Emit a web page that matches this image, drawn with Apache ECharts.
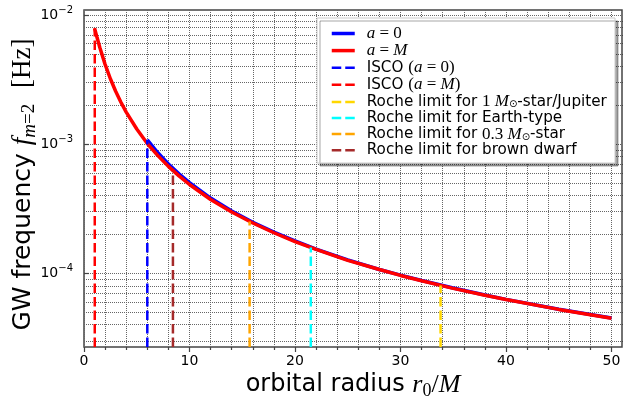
<!DOCTYPE html>
<html>
<head>
<meta charset="utf-8">
<script src="https://cdn.jsdelivr.net/npm/echarts@6/dist/echarts.min.js"></script>
<style>
  html, body { margin: 0; padding: 0; background: #fff; }
  #main { width: 623px; height: 402px; }
</style>
</head>
<body>
<div id="main"></div>
<script>
// orbit radius (r0/M) and GW frequency (Hz)
const radiusA0 = [6, 7, 8, 9, 10, 12, 14, 16, 18, 20, 22, 25, 28, 30, 32, 35, 38, 40, 45, 50];
const freqA0 = [1.08e-3, 8.58e-4, 7.03e-4, 5.89e-4, 5.03e-4, 3.82e-4, 3.04e-4, 2.48e-4, 2.08e-4, 1.78e-4,
  1.54e-4, 1.27e-4, 1.07e-4, 9.68e-5, 8.78e-5, 7.68e-5, 6.79e-5, 6.28e-5, 5.27e-5, 4.50e-5];

const radiusAM = [1, 1.25, 1.5, 2, 2.5, 3, 3.5, 4, 5, 6, 7, 8, 9, 10, 12, 14, 16, 18, 20, 22, 25, 28, 30, 32, 35, 38, 40, 45, 50];
const freqAM = [7.9e-3, 6.63e-3, 5.6e-3, 4.15e-3, 3.21e-3, 2.57e-3, 2.11e-3, 1.77e-3, 1.31e-3, 1.01e-3, 8.15e-4,
  6.73e-4, 5.68e-4, 4.87e-4, 3.73e-4, 2.98e-4, 2.45e-4, 2.06e-4, 1.76e-4, 1.53e-4, 1.26e-4, 1.07e-4, 9.62e-5,
  8.74e-5, 7.64e-5, 6.76e-5, 6.26e-5, 5.25e-5, 4.48e-5];

// vertical markers: ISCO and Roche limits
const markerNames = ['ISCO (a = 0)', 'ISCO (a = M)', 'Roche limit for 1 Msun-star/Jupiter',
  'Roche limit for Earth-type', 'Roche limit for 0.3 Msun-star', 'Roche limit for brown dwarf'];
const markerRadius = [6, 1.02, 33.8, 21.5, 15.7, 8.43];
const markerFreq = [1.08e-3, 7.9e-3, 8.05e-5, 1.58e-4, 2.52e-4, 6.2e-4];
const markerColors = ['#0000ff', '#ff0000', '#ffd700', '#00ffff', '#ffa500', '#a52a2a'];

const Y_MIN = 2.685e-5, Y_MAX = 1.094e-2;
const xMajor = [0, 10, 20, 30, 40, 50];
const xMinor = [2, 4, 6, 8, 12, 14, 16, 18, 22, 24, 26, 28, 32, 34, 36, 38, 42, 44, 46, 48];
const yDecades = [-4, -3, -2];

const yMinor = [];
[-5, -4, -3, -2].forEach(function (e) {
  for (let k = 2; k <= 9; k++) {
    const v = Math.log10(k) + e;
    if (v > Math.log10(Y_MIN) && v < Math.log10(Y_MAX)) yMinor.push(v);
  }
});

const legendRich = {
  '0': '{m|a}{n| = 0}',
  'M': '{m|a}{n| = }{m|M}',
  'ISCO (a = 0)': '{t|ISCO }{n|(}{m|a}{n| = 0)}',
  'ISCO (a = M)': '{t|ISCO }{n|(}{m|a}{n| = }{m|M}{n|)}',
  'Roche limit for 1 Msun-star/Jupiter': '{t|Roche limit for }{n|1 }{m|M}{s|⊙}{t|-star/Jupiter}',
  'Roche limit for Earth-type': '{t|Roche limit for Earth-type}',
  'Roche limit for 0.3 Msun-star': '{t|Roche limit for }{n|0.3 }{m|M}{s|⊙}{t|-star}',
  'Roche limit for brown dwarf': '{t|Roche limit for brown dwarf}'
};

const gridLine = { show: true, lineStyle: { color: '#666', width: 1, type: [1, 1] } };
const tickStyle = { color: '#444', width: 1.2 };
const dash = [9.5, 4];

const series = [
  { name: '0', type: 'line', data: radiusA0.map((r, i) => [r, freqA0[i]]),
    symbol: 'none', lineStyle: { color: '#0000ff', width: 3.5 }, itemStyle: { color: '#0000ff' } },
  { name: 'M', type: 'line', data: radiusAM.map((r, i) => [r, freqAM[i]]),
    symbol: 'none', lineStyle: { color: '#ff0000', width: 3.5 }, itemStyle: { color: '#ff0000' } }
];
markerNames.forEach(function (n, i) {
  series.push({
    name: n, type: 'line', symbol: 'none',
    data: [[markerRadius[i], Y_MIN], [markerRadius[i], markerFreq[i]]],
    lineStyle: { color: markerColors[i], width: 2.5, type: dash },
    itemStyle: { color: markerColors[i] }
  });
});

const legendData = [
  { name: '0', lineStyle: { type: 'solid', width: 3.5 } },
  { name: 'M', lineStyle: { type: 'solid', width: 3.5 } }
].concat(markerNames.map(n => ({ name: n, lineStyle: { type: dash, width: 2.5 } })));

const chart = echarts.init(document.getElementById('main'));
chart.setOption({
  animation: false,
  backgroundColor: '#fff',
  grid: { left: 84, right: 1, top: 10, bottom: 55, show: true, borderColor: '#444', borderWidth: 1.5,
    containLabel: false, outerBoundsMode: 'none' },
  xAxis: [
    {
      type: 'value', min: 0, max: 51,
      name: '{t|orbital radius }{m|r}{s|0}{n|/}{m|M}',
      nameLocation: 'middle', nameGap: 23, nameMoveOverlap: false,
      nameTextStyle: {
        rich: {
          t: { fontFamily: 'DejaVu Sans', fontSize: 24, lineHeight: 30, color: '#000' },
          m: { fontFamily: 'Liberation Serif', fontStyle: 'italic', fontSize: 26, lineHeight: 30, color: '#000' },
          n: { fontFamily: 'Liberation Serif', fontSize: 26, lineHeight: 30, color: '#000' },
          s: { fontFamily: 'Liberation Serif', fontSize: 18, lineHeight: 16, verticalAlign: 'bottom', color: '#000' }
        }
      },
      axisLine: { show: false },
      axisTick: { show: true, length: 5, lineStyle: tickStyle, customValues: xMajor },
      axisLabel: { customValues: xMajor, margin: 7, fontFamily: 'DejaVu Sans', fontSize: 14, color: '#000' },
      splitLine: gridLine
    },
    {
      type: 'value', min: 0, max: 51, position: 'bottom',
      axisLine: { show: false },
      axisTick: { show: true, length: 3, lineStyle: tickStyle, customValues: xMinor },
      axisLabel: { show: false },
      splitLine: gridLine
    }
  ],
  yAxis: [
    {
      type: 'log', logBase: 10, min: Y_MIN, max: Y_MAX,
      name: '{t|GW frequency }{m|f}{sm|m}{sn|=2}{t|  }{n|[Hz]}{g| }',
      nameLocation: 'middle', nameGap: 45, nameRotate: 90, nameMoveOverlap: false,
      nameTextStyle: {
        rich: {
          t: { fontFamily: 'DejaVu Sans', fontSize: 25, lineHeight: 32, color: '#000' },
          m: { fontFamily: 'Liberation Serif', fontStyle: 'italic', fontSize: 27, lineHeight: 32, color: '#000' },
          n: { fontFamily: 'Liberation Serif', fontSize: 27, lineHeight: 32, color: '#000' },
          sm: { fontFamily: 'Liberation Serif', fontStyle: 'italic', fontSize: 19, lineHeight: 18, verticalAlign: 'bottom', color: '#000' },
          sn: { fontFamily: 'Liberation Serif', fontSize: 19, lineHeight: 18, verticalAlign: 'bottom', color: '#000' },
          g: { fontSize: 10, width: 12, lineHeight: 32 }
        }
      },
      axisLine: { show: false },
      axisTick: { show: false },
      splitLine: { show: false },
      axisLabel: {
        margin: 11,
        formatter: function (v) {
          const e = Math.log10(v);
          if (Math.abs(e - Math.round(e)) > 1e-6) return '';
          return '{b|10}{p|\u2212' + Math.abs(Math.round(e)) + '}';
        },
        rich: {
          b: { fontFamily: 'DejaVu Sans', fontSize: 14, lineHeight: 20, color: '#000' },
          p: { fontFamily: 'DejaVu Sans', fontSize: 10, lineHeight: 11, verticalAlign: 'top', color: '#000' }
        }
      }
    },
    {
      type: 'value', min: Math.log10(Y_MIN), max: Math.log10(Y_MAX),
      axisLine: { show: false }, axisLabel: { show: false },
      axisTick: { show: true, length: 5, lineStyle: tickStyle, customValues: yDecades },
      splitLine: gridLine
    },
    {
      type: 'value', min: Math.log10(Y_MIN), max: Math.log10(Y_MAX),
      axisLine: { show: false }, axisLabel: { show: false },
      axisTick: { show: true, length: 3, lineStyle: tickStyle, customValues: yMinor },
      splitLine: gridLine
    }
  ],
  graphic: [{
    type: 'rect', z: 3,
    shape: { x: 317, y: 18, width: 298, height: 145 },
    style: { fill: '#fff', stroke: '#cccccc', lineWidth: 1,
      shadowColor: 'rgba(0,0,0,0.35)', shadowOffsetX: 3, shadowOffsetY: 3, shadowBlur: 0 }
  }],
  legend: {
    z: 4, orient: 'vertical', left: 330, top: 25, padding: 0,
    itemWidth: 23, itemHeight: 14, itemGap: 0.1,
    itemStyle: { opacity: 0 },
    data: legendData,
    formatter: function (name) { return legendRich[name]; },
    textStyle: {
      padding: [0, 0, 0, 7],
      rich: {
        t: { fontFamily: 'DejaVu Sans', fontSize: 15.2, lineHeight: 16, color: '#000' },
        m: { fontFamily: 'Liberation Serif', fontStyle: 'italic', fontSize: 17, lineHeight: 16, color: '#000' },
        n: { fontFamily: 'Liberation Serif', fontSize: 17, lineHeight: 16, color: '#000' },
        s: { fontFamily: 'DejaVu Sans', fontSize: 10, lineHeight: 10, verticalAlign: 'bottom', color: '#000' }
      }
    }
  },
  series: series
});
</script>
</body>
</html>
